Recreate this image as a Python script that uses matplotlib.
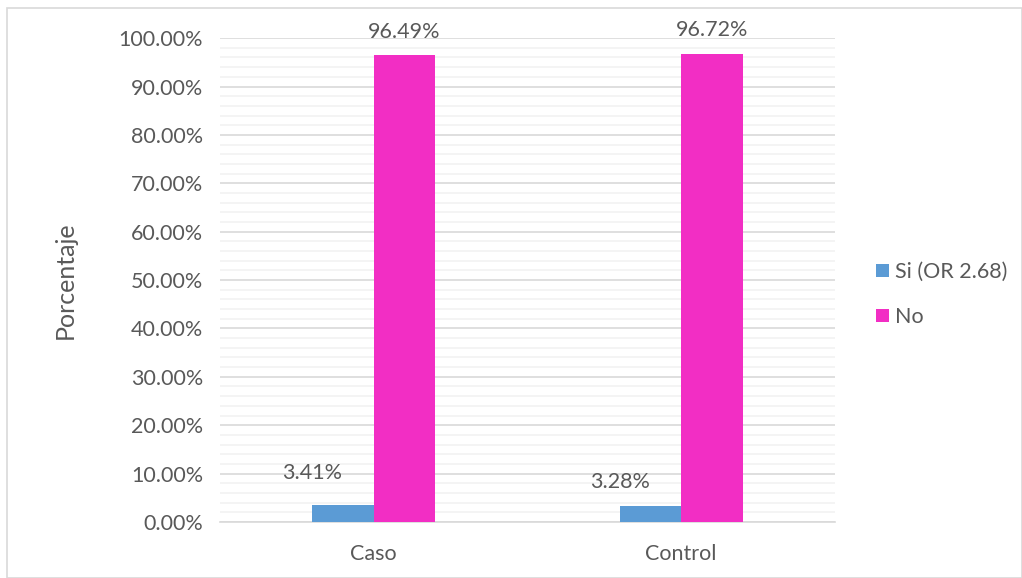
import numpy as np
import matplotlib.pyplot as plt
from matplotlib.ticker import MultipleLocator, PercentFormatter
from matplotlib.patches import Rectangle

categories = ["Caso", "Control"]
series_names = ["Si (OR 2.68)", "No"]
si_values = [3.41, 3.28]
no_values = [96.49, 96.72]

colors = ["#5B9BD5", "#F22EC4"]
text_color = "#595959"

plt.rcParams['font.family'] = ['Lato', 'DejaVu Sans']

fig = plt.figure(figsize=(10.22, 5.78), dpi=100)
fig.patches.append(Rectangle((0.007, 0.0), 0.993, 0.986, transform=fig.transFigure,
                             fill=False, edgecolor="#D9D9D9", linewidth=1.2))
ax = fig.add_axes([0.215, 0.097, 0.602, 0.837])

x = np.arange(len(categories))
w = 0.2
ax.bar(x - w / 2, si_values, w, color=colors[0], label=series_names[0], zorder=3)
ax.bar(x + w / 2, no_values, w, color=colors[1], label=series_names[1], zorder=3)

# data labels (Excel placed the small ones by hand)
si_offsets = [6.7, 5.0]
for xi, v, off in zip(x, si_values, si_offsets):
    ax.text(xi - w, v + off, f"{v:.2f}%", ha="center", va="center",
            fontsize=15.5, color=text_color)
for xi, v in zip(x, no_values):
    ax.text(xi + w / 2, v + 2.8, f"{v:.2f}%", ha="center", va="bottom",
            fontsize=15.5, color=text_color)

ax.set_xlim(-0.5, 1.5)
ax.set_ylim(0, 100)
ax.yaxis.set_major_locator(MultipleLocator(10))
ax.yaxis.set_minor_locator(MultipleLocator(2))
ax.yaxis.set_major_formatter(PercentFormatter(decimals=2))
ax.grid(which="major", axis="y", color="#D9D9D9", linewidth=1.2, zorder=0)
ax.grid(which="minor", axis="y", color="#F2F2F2", linewidth=1.2, zorder=0)
ax.set_axisbelow(True)

ax.set_xticks(x)
ax.set_xticklabels(categories)
ax.tick_params(axis="both", which="both", length=0, labelsize=15.5, labelcolor=text_color)
ax.tick_params(axis="x", pad=16)
ax.tick_params(axis="y", pad=12)
for s in ["top", "right", "left"]:
    ax.spines[s].set_visible(False)
ax.spines["bottom"].set_color("#D9D9D9")
ax.spines["bottom"].set_linewidth(1.2)

ax.set_ylabel("Porcentaje", fontsize=18, color=text_color, labelpad=30)

ax.legend(loc="center left", bbox_to_anchor=(1.035, 0.47), frameon=False,
          fontsize=15.5, labelcolor=text_color, handlelength=0.6, handleheight=0.6,
          handletextpad=0.3, labelspacing=1.15)

fig.savefig("out.png", dpi=100)
